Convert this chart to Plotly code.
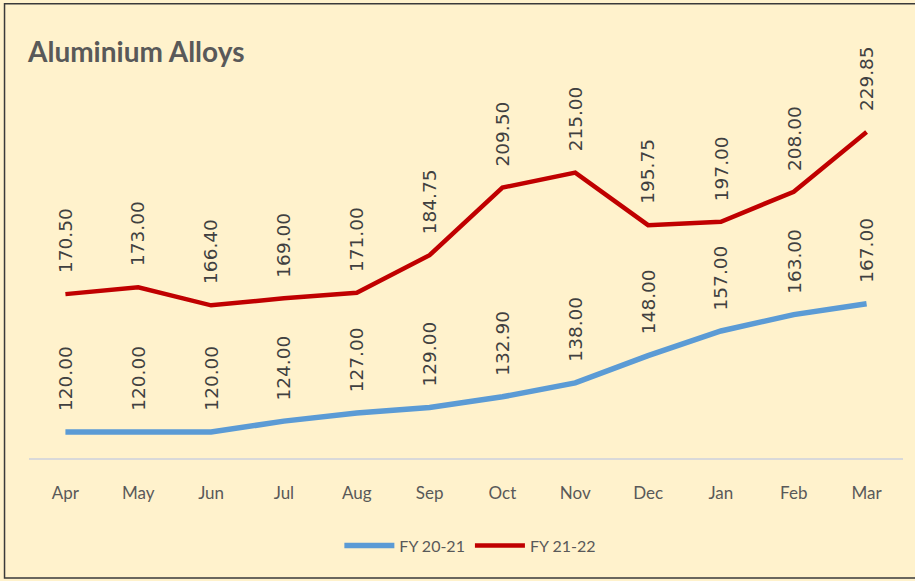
import plotly.graph_objects as go

MONTHS = ["Apr", "May", "Jun", "Jul", "Aug", "Sep", "Oct", "Nov", "Dec", "Jan", "Feb", "Mar"]
FY_20_21 = [120.00, 120.00, 120.00, 124.00, 127.00, 129.00, 132.90, 138.00, 148.00, 157.00, 163.00, 167.00]
FY_21_22 = [170.50, 173.00, 166.40, 169.00, 171.00, 184.75, 209.50, 215.00, 195.75, 197.00, 208.00, 229.85]

COLORS = {
    "background": "#FFF2CC",
    "blue": "#5B9BD5",
    "red": "#C00000",
    "title": "#595959",
    "label": "#404040",
    "axis": "#D9D9D9",
    "border": "#3A3A3A",
}

fig = go.Figure()
fig.add_trace(
    go.Scatter(
        x=MONTHS,
        y=FY_20_21,
        mode="lines",
        name="FY 20-21",
        line={"color": COLORS["blue"], "width": 5.5},
    )
)
fig.add_trace(
    go.Scatter(
        x=MONTHS,
        y=FY_21_22,
        mode="lines",
        name="FY 21-22",
        line={"color": COLORS["red"], "width": 4.5},
    )
)

# rotated data labels above each point
annotations = []
for series in (FY_20_21, FY_21_22):
    for month, value in zip(MONTHS, series):
        annotations.append(
            {
                "x": month,
                "y": value,
                "xref": "x",
                "yref": "y",
                "text": f"{value:.2f}",
                "textangle": -90,
                "showarrow": False,
                "yanchor": "bottom",
                "xanchor": "center",
                "yshift": 19,
                "font": {"family": "DejaVu Sans", "size": 18.5, "color": COLORS["label"]},
            }
        )

fig.update_layout(
    width=915,
    height=581,
    paper_bgcolor=COLORS["background"],
    plot_bgcolor=COLORS["background"],
    margin={"l": 29, "r": 12, "t": 77, "b": 123},
    title={
        "text": "<b>Aluminium Alloys</b>",
        "x": 28 / 915,
        "xanchor": "left",
        "y": 1 - 52 / 581,
        "yanchor": "middle",
        "font": {"family": "Lato", "size": 28, "color": COLORS["title"]},
    },
    showlegend=True,
    legend={
        "orientation": "h",
        "x": 0.505,
        "xanchor": "center",
        "y": -0.23,
        "yanchor": "middle",
        "font": {"family": "Lato", "size": 16, "color": COLORS["title"]},
        "bgcolor": "rgba(0,0,0,0)",
        "itemwidth": 50,
    },
    annotations=annotations,
    shapes=[
        {
            "type": "rect",
            "xref": "paper",
            "yref": "paper",
            "x0": -0.028,
            "x1": 1.05,
            "y0": -0.315,
            "y1": 1.192,
            "line": {"color": COLORS["border"], "width": 1.5},
            "fillcolor": "rgba(0,0,0,0)",
            "layer": "below",
        }
    ],
)
fig.update_xaxes(
    showgrid=False,
    showline=True,
    linecolor=COLORS["axis"],
    linewidth=1.5,
    ticks="",
    range=[-0.5, 11.5],
    tickfont={"family": "Lato", "size": 17, "color": COLORS["title"]},
    ticklabelstandoff=19,
)
fig.update_yaxes(
    range=[110.5, 250],
    showgrid=False,
    zeroline=False,
    showticklabels=False,
)

fig.write_html(
    "out.html",
    config={"displayModeBar": False},
    post_script="document.body.style.margin='0';",
)
